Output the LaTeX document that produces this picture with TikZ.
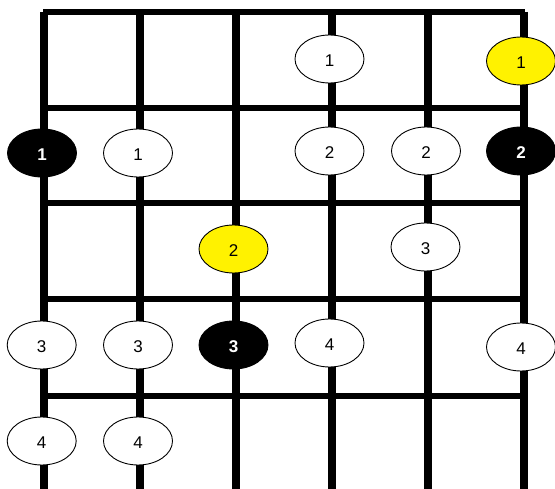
\documentclass[tikz,border=0pt]{standalone}
\usepackage{fontspec}
\setmainfont{Liberation Sans}
\usetikzlibrary{shapes.geometric}
\tikzset{
  fret/.style={line width=6pt},
  strg/.style={line width=8pt},
  dot/.style={ellipse, draw=black, line width=0.9pt, fill=white, minimum width=69pt, minimum height=48pt, inner sep=0pt, text height=16pt, text depth=0pt, font=\fontsize{17}{17}\selectfont},
  rootdot/.style={dot, fill=black, text=white, font=\fontsize{17}{17}\selectfont\bfseries},
  ydot/.style={dot, fill=yellow},
}
\begin{document}
\begin{tikzpicture}[x=1pt,y=-1pt]
\useasboundingbox (0,0) rectangle (555,489);
% frets
\foreach \y in {12,108,203,299,396} {
  \draw[fret] (43,\y) -- (525,\y);
}
% strings
\foreach \x in {44,140,236,332,428,524} {
  \draw[strg] (\x,12) -- (\x,489);
}
% notes
\node[dot]     (a1) at (329.5,59)  {1};
\node[ydot]    (a2) at (521,61)    {1};
\node[rootdot] (b1) at (42,153)    {1};
\node[dot]     (b2) at (138,153)   {1};
\node[dot]     (b3) at (329.5,151) {2};
\node[dot]     (b4) at (426,151)   {2};
\node[rootdot] (b5) at (521,151)   {2};
\node[ydot]    (c1) at (233.5,249) {2};
\node[dot]     (c2) at (425.5,247) {3};
\node[dot]     (d1) at (41.7,345)  {3};
\node[dot]     (d2) at (138,345)   {3};
\node[rootdot] (d3) at (233.5,345) {3};
\node[dot]     (d4) at (329.5,343) {4};
\node[dot]     (d5) at (521,347)   {4};
\node[dot]     (e1) at (41.7,441)  {4};
\node[dot]     (e2) at (138,441)   {4};
\end{tikzpicture}
\end{document}
